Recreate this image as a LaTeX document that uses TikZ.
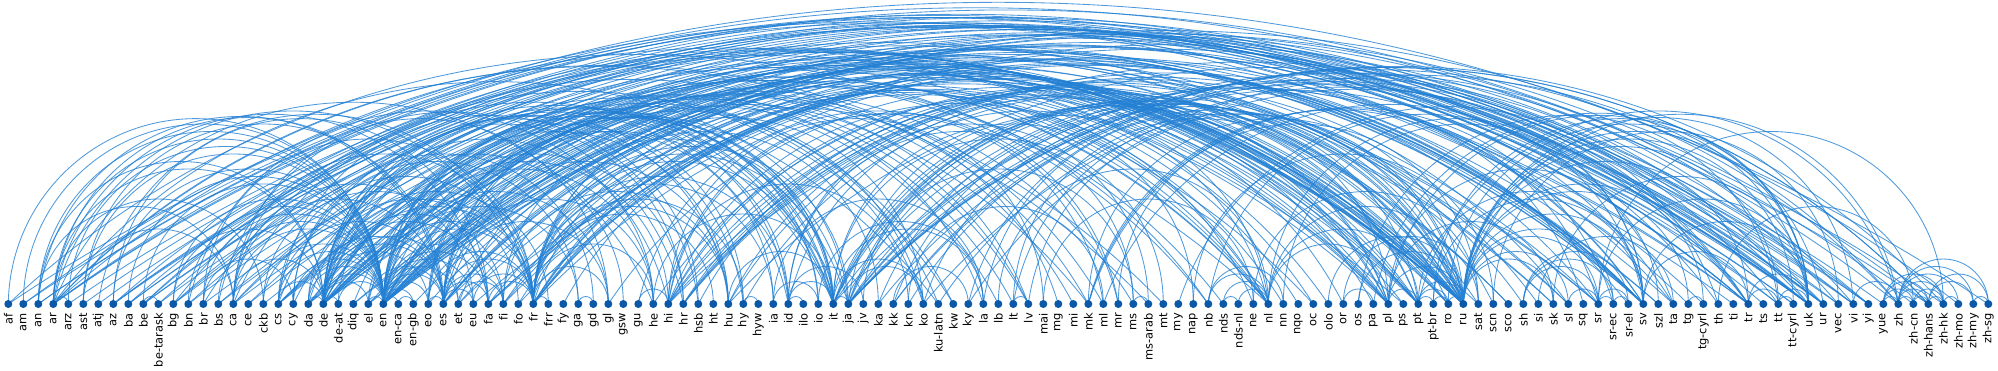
\documentclass[tikz,border=0pt]{standalone}
\usepackage{fontspec}
\setmainfont{DejaVu Sans}[Ligatures=NoCommon]
\usetikzlibrary{positioning,backgrounds,calc}
\definecolor{dotblue}{HTML}{0B58A6}
\definecolor{arcblue}{HTML}{2380D3}
\tikzset{
  langdot/.style={circle,fill=dotblue,inner sep=0pt,minimum size=8pt},
  langlabel/.style={rotate=90,inner sep=0pt,font=\fontsize{11.4}{12}\selectfont,text=black},
  arcline/.style={draw=arcblue,line width=0.85pt,opacity=0.8},
}
% arc between two language nodes (round for short spans, flatter for long ones)
\newcommand{\langarc}[2]{%
  \draw[arcline] let \p1=(#1), \p2=(#2),
    \n1={abs(\x2-\x1)/200},
    \n2={min(\n1,1.85+0.145*(\n1-1.85))},
    \n3={(\n1*\n1+\n2*\n2)/(2*\n2)},
    \n4={atan2(\n3-\n2,\n1)}
  in ({min(\x1,\x2)},\y1) arc[start angle=180-\n4, end angle=\n4, radius={\n3*100}];}

\begin{document}
\begin{tikzpicture}[x=1pt,y=1pt]
\useasboundingbox (0,0) rectangle (1998,370);

% language nodes
\foreach \lc [count=\i from 0] in {af,am,an,ar,arz,ast,atj,az,ba,be,be-tarask,bg,bn,br,bs,ca,ce,ckb,cs,cy,
  da,de,de-at,diq,el,en,en-ca,en-gb,eo,es,et,eu,fa,fi,fo,fr,frr,fy,ga,gd,gl,gsw,gu,he,hi,hr,hsb,ht,hu,hy,hyw,
  ia,id,ilo,io,it,ja,jv,ka,kk,kn,ko,ku-latn,kw,ky,la,lb,lt,lv,mai,mg,mi,mk,ml,mr,ms,ms-arab,mt,my,nap,nb,nds,
  nds-nl,ne,nl,nn,nqo,oc,olo,or,os,pa,pl,ps,pt,pt-br,ro,ru,sat,scn,sco,sh,si,sk,sl,sq,sr,sr-ec,sr-el,sv,szl,
  ta,tg,tg-cyrl,th,ti,tr,ts,tt,tt-cyrl,uk,ur,vec,vi,yi,yue,zh,zh-cn,zh-hans,zh-hk,zh-mo,zh-my,zh-sg}{
  \node[langdot] (\lc) at ({8.3+15*\i},66) {};
  \node[langlabel,below=9pt of \lc.center,anchor=east] (lbl-\lc) {\lc};
}

% links
\begin{pgfonlayer}{background}
\foreach \a/\bl in {
  en/{af,am,an,ar,arz,ast,az,ba,be,bg,bn,br,bs,ca,ckb,cs,cy,da,de,de-at,el,en-ca,en-gb,eo,es,et,eu,fa,fi,fr,
      ga,gl,he,hi,hr,hu,hy,id,it,ja,ko,lv,mk,ml,ms,nl,nb,pl,pt,ro,ru,sco,sl,sr,sv,ta,tr,uk,zh,zh-hans,mi,ts},
  de/{an,ar,bg,ca,cs,da,de-at,el,eo,es,et,fi,fr,frr,gsw,hr,hsb,hu,it,ja,lb,lt,lv,nds,nl,pl,pt,ro,ru,sk,
      sl,sv,szl,uk,he,fa,id,hy,yi},
  fr/{ar,atj,br,ca,cs,de-at,el,eo,es,eu,fa,frr,gl,ht,ia,io,it,ja,ko,mg,nl,oc,pl,pt,ro,ru,sv,
      he,hu,id,ka,hy,nqo},
  es/{an,ar,ast,ca,eo,eu,gl,he,it,ja,la,nl,pl,pt,ro,ru,sv,ko,fa,id,hu,el,fi,cs,da},
  it/{ca,eo,ja,la,nap,pl,pt,ro,ru,scn,sv,vec,mt,he,ko,hu,el,fi,cs,da,id},
  ru/{ba,be,be-tarask,bg,ce,et,hy,ja,ka,kk,ky,lt,lv,mk,os,pl,sr,sr-ec,tg,tg-cyrl,tt,tt-cyrl,uk,zh,az,cs,
      he,fi,hu,ro,tr,vi,ko,el,sk,sl,hr,da,sv,olo},
  pt/{pt-br,gl,ca,eo,ja,la,nl,pl,ro,ru,sv,zh},
  pt-br/{ro,sv,uk},
  nl/{af,fy,nds-nl,nds,lb,da,nb,sv,pl,ru,id,ja},
  sr/{sr-ec,sr-el,sh,hr,bs,mk,sl,bg,uk,zh-hk},
  sr-ec/{sr-el,sh},
  zh/{zh-cn,zh-hans,zh-hk,zh-mo,zh-my,zh-sg,yue,ja,ko,vi},
  zh-hans/{zh-cn,zh-sg,zh-my,zh-hk,yue,ja},
  zh-hk/{yue,zh-mo,zh-cn},
  zh-my/{zh-sg},
  sv/{da,nb,nn,fi,et,uk,ja,tr,fo},
  tr/{az,diq,ku-latn,tt,ky,kk,uk,ja,el,ar},
  uk/{be,be-tarask,pl,bg,cs,sk,hu,tt,ro,ka},
  pl/{cs,sk,szl,be,lt,hu,ja},
  hi/{mai,ne,mr,bn,gu,pa,ur,ta,kn,ml,sat,or,si},
  ar/{arz,fa,he,ckb,ur,ps,ms-arab,ku-latn,yi},
  fa/{ps,tg,tg-cyrl,ckb,ur,az},
  ms/{ms-arab,id,jv},
  id/{jv,ilo,ms-arab},
  fi/{olo,et,hu},
  nb/{nn,da},
  hy/{hyw},
  ja/{ko,zh-hans,zh-hk,vi,th},
  ca/{oc,an,ast,eu,gl,vec},
  cs/{sk,hsb},
  be/{be-tarask,yi},
  hr/{bs,sh,sl,sr-el},
  bg/{mk},
  ta/{ml,si},
  kk/{ky,tt},
  en-gb/{en-ca,sco},
  cy/{kw,ga,gd,br},
  ga/{gd},
  la/{ia,io},
  eo/{ia,io},
  mk/{sq,sr-ec},
  lt/{lv},
  et/{lv},
  kn/{ta,ml},
  mr/{gu,sat},
  ne/{mai,sat},
  pa/{ur},
  tt/{tt-cyrl,ba},
  tg/{tg-cyrl},
  os/{tt},
  nds/{nds-nl},
  sh/{sr-el},
  or/{pa},
  sat/{or},
  scn/{vec,nap},
  szl/{cs},
  kw/{br},
  ku-latn/{diq},
  fo/{da,nn},
  my/{th},
  hsb/{pl},
  ia/{io},
  mt/{ar},
  af/{zh-sg},
  am/{ti,zh-hans},
  an/{vec,uk},
  arz/{zh-hk},
  ast/{vi},
  atj/{tt-cyrl},
  az/{uk,yue},
  ba/{tt-cyrl},
  bn/{sat,ur},
  br/{vi},
  bs/{ur},
  ce/{tt},
  ckb/{ur},
  da/{vi},
  diq/{zh-cn},
  el/{zh-mo},
  eu/{yi},
  th/{zh-cn},
  yue/{zh-cn}%
}{\foreach \b in \bl {\langarc{\a}{\b}}}
\end{pgfonlayer}
\end{tikzpicture}
\end{document}
